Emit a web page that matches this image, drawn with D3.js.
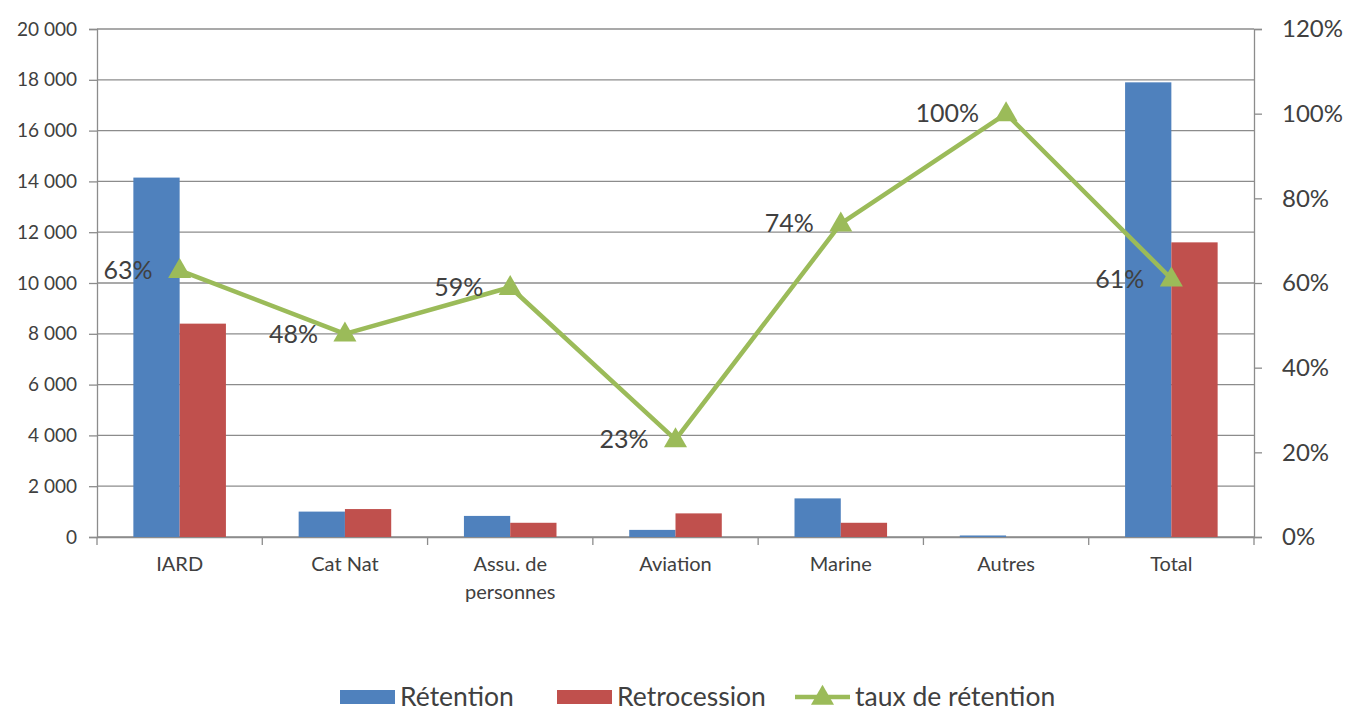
<!DOCTYPE html>
<html><head><meta charset="utf-8">
<script src="https://cdn.jsdelivr.net/npm/d3@7"></script>
<style>body{margin:0;background:#fff}svg{display:block}text{font-family:Lato,"Open Sans",sans-serif;fill:#404040}</style>
</head><body><svg id="c" width="1349" height="711"></svg>
<script>
const categories = ["IARD","Cat Nat","Assu. de personnes","Aviation","Marine","Autres","Total"];
const retention = [14150,1000,830,280,1520,60,17900];
const retrocession = [8400,1100,560,930,560,0,11600];
const tauxRetention = [0.63,0.48,0.59,0.23,0.74,1.00,0.61];
const leftTicks = [0,2000,4000,6000,8000,10000,12000,14000,16000,18000,20000];
const rightTicks = [0,0.2,0.4,0.6,0.8,1.0,1.2];
const seriesNames = ["Rétention","Retrocession","taux de rétention"];
const colors = ["#4F81BD","#C0504D","#9BBB59"];

const svg = d3.select("#c");
const L=97,R=1254,T=29,B=537;
const x = d3.scaleBand().domain(categories).range([L,R]).paddingInner(0.44).paddingOuter(0.22);
const xc = d3.scaleBand().domain(categories).range([L,R]);
const yl = d3.scaleLinear().domain([0,20000]).range([B,T]);
const yr = d3.scaleLinear().domain([0,1.2]).range([B,T]);
const fmt = d => d3.format(",")(d).replace(/,/g," ");

// gridlines
svg.append("g").selectAll("line").data(leftTicks).join("line")
 .attr("x1",L).attr("x2",R).attr("y1",d=>yl(d)).attr("y2",d=>yl(d))
 .attr("stroke","#8c8c8c").attr("stroke-width",1.3);

// left axis
const gl = svg.append("g").attr("transform",`translate(${L},0)`)
 .call(d3.axisLeft(yl).tickValues(leftTicks).tickFormat(fmt).tickSize(8).tickPadding(12));
gl.select(".domain").attr("stroke","#8c8c8c").attr("stroke-width",1.3);
gl.selectAll(".tick line").attr("stroke","#8c8c8c").attr("stroke-width",1.3);
gl.selectAll("text").style("font-size","19px").style("fill","#404040").style("font-family","Lato");

// right axis
const gr = svg.append("g").attr("transform",`translate(${R},0)`)
 .call(d3.axisRight(yr).tickValues(rightTicks).tickFormat(d3.format(".0%")).tickSize(8).tickPadding(20));
gr.select(".domain").attr("stroke","#8c8c8c").attr("stroke-width",1.3);
gr.selectAll(".tick line").attr("stroke","#8c8c8c").attr("stroke-width",1.3);
gr.selectAll("text").style("font-size","24px").style("fill","#404040").style("font-family","Lato");

// category axis
const gx = svg.append("g").attr("transform",`translate(0,${B})`)
 .call(d3.axisBottom(xc).tickSize(0).tickPadding(20));
gx.select(".domain").attr("stroke","#8c8c8c").attr("stroke-width",1.3);
gx.selectAll(".tick text").style("font-size","20px").style("fill","#404040").style("font-family","Lato")
 .each(function(d){
   const t=d3.select(this);
   if(d==="Assu. de personnes"){ t.text(null);
     t.append("tspan").attr("x",0).attr("dy","0.71em").text("Assu. de");
     t.append("tspan").attr("x",0).attr("dy","1.4em").text("personnes"); }
 });
// category boundary ticks
svg.append("g").selectAll("line").data(d3.range(categories.length+1)).join("line")
 .attr("x1",i=>L+i*xc.step()).attr("x2",i=>L+i*xc.step()).attr("y1",B).attr("y2",B+8)
 .attr("stroke","#8c8c8c").attr("stroke-width",1.3);

// bars
const bw = x.bandwidth()/2;
svg.append("g").selectAll("rect").data(categories).join("rect")
 .attr("x",d=>x(d)).attr("width",bw).attr("y",(d,i)=>yl(retention[i])).attr("height",(d,i)=>B-yl(retention[i]))
 .attr("fill",colors[0]);
svg.append("g").selectAll("rect").data(categories).join("rect")
 .attr("x",d=>x(d)+bw).attr("width",bw).attr("y",(d,i)=>yl(retrocession[i])).attr("height",(d,i)=>B-yl(retrocession[i]))
 .attr("fill",colors[1]);

// line
const px = d=>xc(d)+xc.bandwidth()/2;
const line = d3.line().x((d,i)=>px(categories[i])).y(d=>yr(d));
svg.append("path").datum(tauxRetention).attr("d",line).attr("fill","none")
 .attr("stroke",colors[2]).attr("stroke-width",4.5).attr("stroke-linejoin","round");
const tri = d3.symbol().type(d3.symbolTriangle).size(230);
svg.append("g").selectAll("path").data(tauxRetention).join("path")
 .attr("d",tri).attr("transform",(d,i)=>`translate(${px(categories[i])},${yr(d)+1})`).attr("fill",colors[2]);
svg.append("g").selectAll("text").data(tauxRetention).join("text")
 .attr("x",(d,i)=>px(categories[i])-27).attr("y",d=>yr(d)).attr("dy","0.35em")
 .attr("text-anchor","end").style("font-size","25px").text(d=>d3.format(".0%")(d));

// legend
const lg = svg.append("g").attr("transform","translate(0,697)");
const items = [{x:340,t:"rect",c:colors[0],n:seriesNames[0]},{x:557,t:"rect",c:colors[1],n:seriesNames[1]},{x:795,t:"line",c:colors[2],n:seriesNames[2]}];
items.forEach(it=>{
  if(it.t==="rect"){ lg.append("rect").attr("x",it.x).attr("y",-7).attr("width",55).attr("height",14).attr("fill",it.c); }
  else { lg.append("line").attr("x1",it.x).attr("x2",it.x+55).attr("y1",0).attr("y2",0).attr("stroke",it.c).attr("stroke-width",4.5);
         lg.append("path").attr("d",tri).attr("transform",`translate(${it.x+27.5},1)`).attr("fill",it.c); }
  lg.append("text").attr("x",it.x+60).attr("y",0).attr("dy","0.35em").style("font-size","26.5px").text(it.n);
});
</script></body></html>
